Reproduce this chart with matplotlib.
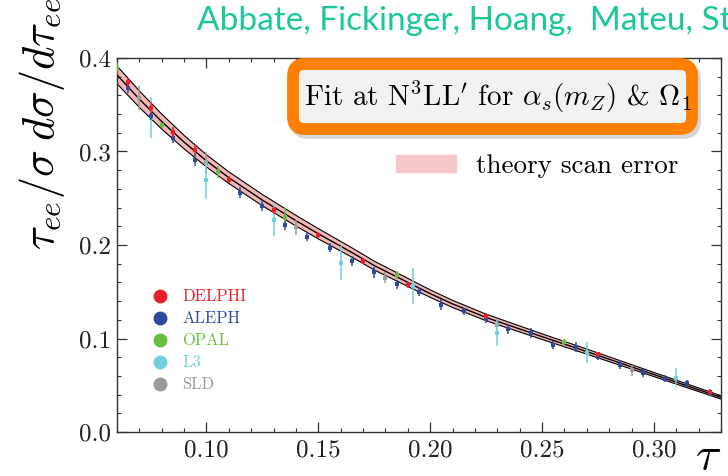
import matplotlib
matplotlib.use("Agg")
import matplotlib.pyplot as plt
from matplotlib.lines import Line2D
from matplotlib.patches import Patch, FancyBboxPatch
from matplotlib.ticker import MultipleLocator, FormatStrFormatter

plt.rcParams["mathtext.fontset"] = "cm"
plt.rcParams["font.family"] = ["cmr10", "DejaVu Serif"]
plt.rcParams["axes.formatter.use_mathtext"] = True

# theory curve (central value and half-width of scan band)
tau_th = [0.06, 0.07, 0.08, 0.09, 0.10, 0.11, 0.125, 0.14, 0.15, 0.165,
          0.175, 0.19, 0.20, 0.21, 0.225, 0.25, 0.27, 0.30, 0.33]
th_center = [0.382, 0.356, 0.332, 0.310, 0.290, 0.272, 0.248, 0.226, 0.212, 0.192,
             0.178, 0.160, 0.148, 0.137, 0.1225, 0.102, 0.086, 0.0615, 0.037]
th_half = [0.0095, 0.0088, 0.0080, 0.0072, 0.0065, 0.0062, 0.0060, 0.0057, 0.0055, 0.0050,
           0.0047, 0.0043, 0.0040, 0.0038, 0.0035, 0.0030, 0.0027, 0.0022, 0.0018]

# experiments
delphi_tau = [0.065, 0.075, 0.085, 0.095, 0.11, 0.13, 0.15, 0.17, 0.19, 0.225, 0.275, 0.325]
delphi_val = [0.374, 0.347, 0.321, 0.302, 0.270, 0.237, 0.211, 0.183, 0.157, 0.124, 0.083, 0.043]
delphi_err = [0.005, 0.006, 0.005, 0.005, 0.004, 0.004, 0.003, 0.003, 0.003, 0.003, 0.003, 0.003]

aleph_tau = [0.065, 0.075, 0.085, 0.095, 0.115, 0.125, 0.135, 0.145, 0.155, 0.165, 0.175,
             0.185, 0.195, 0.205, 0.215, 0.225, 0.235, 0.245, 0.255, 0.265, 0.275, 0.285,
             0.295, 0.305, 0.315, 0.325]
aleph_val = [0.368, 0.338, 0.314, 0.291, 0.256, 0.242, 0.221, 0.209, 0.197, 0.183, 0.171,
             0.158, 0.150, 0.136, 0.129, 0.121, 0.110, 0.106, 0.093, 0.091, 0.080, 0.072,
             0.063, 0.057, 0.052, 0.041]
aleph_err = [0.005, 0.004, 0.005, 0.006, 0.006, 0.006, 0.005, 0.005, 0.005, 0.005, 0.006,
             0.005, 0.005, 0.006, 0.004, 0.004, 0.005, 0.005, 0.004, 0.005, 0.003, 0.005,
             0.004, 0.004, 0.004, 0.003]

opal_tau = [0.060, 0.080, 0.105, 0.135, 0.185, 0.260]
opal_val = [0.389, 0.328, 0.278, 0.230, 0.168, 0.096]
opal_err = [0.006, 0.003, 0.006, 0.010, 0.004, 0.003]

l3_tau = [0.075, 0.100, 0.130, 0.160, 0.1925, 0.230, 0.270, 0.310]
l3_val = [0.336, 0.270, 0.227, 0.181, 0.156, 0.106, 0.085, 0.058]
l3_err = [0.022, 0.021, 0.017, 0.018, 0.019, 0.014, 0.011, 0.010]

sld_tau = [0.070, 0.100, 0.140, 0.180, 0.230, 0.290]
sld_val = [0.357, 0.288, 0.219, 0.165, 0.114, 0.066]
sld_err = [0.013, 0.012, 0.008, 0.006, 0.005, 0.006]

exp_names = ["DELPHI", "ALEPH", "OPAL", "L3", "SLD"]
exp_colors = ["#e8202a", "#2d4a9e", "#6abf40", "#6fd0e0", "#9a9a9a"]

fig = plt.figure(figsize=(7.28, 4.76), dpi=100)
ax = fig.add_axes([117 / 728, 1 - 432 / 476, 604 / 728, 374 / 476])

lo = [c - h for c, h in zip(th_center, th_half)]
hi = [c + h for c, h in zip(th_center, th_half)]
ax.fill_between(tau_th, lo, hi, color="#f4b7b7", lw=0, zorder=1)
ax.plot(tau_th, lo, color="black", lw=0.8, zorder=2)
ax.plot(tau_th, hi, color="black", lw=0.8, zorder=2)
ax.plot(tau_th, th_center, color="black", lw=1.0, zorder=2)

data = [(delphi_tau, delphi_val, delphi_err),
        (aleph_tau, aleph_val, aleph_err),
        (opal_tau, opal_val, opal_err),
        (l3_tau, l3_val, l3_err),
        (sld_tau, sld_val, sld_err)]
order = [4, 3, 2, 1, 0]
for i in order:
    t, v, e = data[i]
    ax.errorbar(t, v, yerr=e, fmt="s", ms=3.5, color=exp_colors[i], mew=0,
                elinewidth=1.1, capsize=2.5, capthick=1.1, zorder=3 + (4 - i) * 0.1)

ax.set_xlim(0.06, 0.33)
ax.set_ylim(0.0, 0.4)
ax.xaxis.set_major_locator(MultipleLocator(0.05))
ax.xaxis.set_minor_locator(MultipleLocator(0.01))
ax.yaxis.set_major_locator(MultipleLocator(0.1))
ax.yaxis.set_minor_locator(MultipleLocator(0.02))
ax.xaxis.set_major_formatter(FormatStrFormatter("%.2f"))
ax.yaxis.set_major_formatter(FormatStrFormatter("%.1f"))
ax.tick_params(which="both", direction="in", top=True, right=True, colors="#333333",
               labelcolor="#222222", labelsize=18)
ax.tick_params(which="major", length=7, width=0.9)
ax.tick_params(which="minor", length=3, width=0.8)
ax.tick_params(axis="x", pad=5)
ax.tick_params(axis="y", pad=4)
for s in ax.spines.values():
    s.set_color("#333333")
    s.set_linewidth(1.0)

handles = [Line2D([], [], marker="o", ls="", color=c, markersize=9) for c in exp_colors]
leg1 = ax.legend(handles, exp_names, loc="upper left", bbox_to_anchor=(0.058, 0.382),
                 frameon=False, fontsize=12, labelcolor=exp_colors, handlelength=0.95,
                 handletextpad=0.85, labelspacing=0.4, borderpad=0, borderaxespad=0)
ax.add_artist(leg1)
ax.legend([Patch(color="#f7c8cb")], ["theory scan error"], loc="center left",
          bbox_to_anchor=(0.462, 0.711), frameon=False, fontsize=19.5, handlelength=2.2,
          handleheight=0.6, handletextpad=0.75, borderpad=0, borderaxespad=0)

# labels
fig.text(42 / 728, 1 - 250 / 476, r"$\tau_{ee}/\sigma\; d\sigma/d\tau_{ee}$",
         rotation=90, ha="center", va="bottom", fontsize=32)
fig.text(708 / 728, 1 - 457 / 476, r"$\tau$", ha="center", va="center", fontsize=34)

fig.text(197 / 728, 1 - 21 / 476, "Abbate, Fickinger, Hoang,  Mateu, Stewart",
         family="Lato", color="#1cc79a", fontsize=24, ha="left", va="center")

# orange box
shadow = FancyBboxPatch((2.96, 3.43), 3.99, 0.65, boxstyle="round,pad=0,rounding_size=0.12",
                        transform=fig.dpi_scale_trans, facecolor="#777777", alpha=0.3,
                        edgecolor="#777777", lw=8.5, zorder=2)
box = FancyBboxPatch((2.93, 3.47), 3.99, 0.65, boxstyle="round,pad=0,rounding_size=0.12",
                     transform=fig.dpi_scale_trans, facecolor="#f2f2f2",
                     edgecolor="#ff7f00", lw=8.5, zorder=3)
fig.patches.extend([shadow, box])
fig.text(4.975, 3.79, r"Fit at N$^3$LL$'$ for $\alpha_s(m_Z)$ & $\Omega_1$",
         transform=fig.dpi_scale_trans, ha="center", va="center", fontsize=21, zorder=4)

fig.savefig("out.png", dpi=100)
